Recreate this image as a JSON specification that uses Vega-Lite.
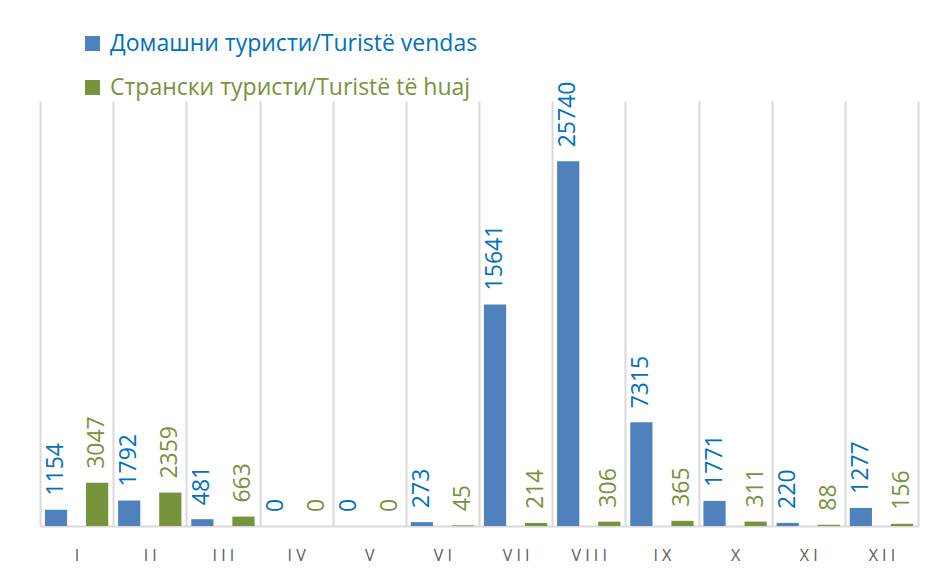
{
  "$schema": "https://vega.github.io/schema/vega-lite/v6.json",
  "width": 878,
  "height": 425,
  "autosize": {"type": "none"},
  "padding": {"left": 40, "top": 101, "right": 14, "bottom": 55},
  "background": "white",
  "config": {"view": {"stroke": null}},
  "data": {
    "values": [
      {"month": "I", "series": "Домашни туристи/Turistë vendas", "value": 1154},
      {"month": "I", "series": "Странски туристи/Turistë të huaj", "value": 3047},
      {"month": "II", "series": "Домашни туристи/Turistë vendas", "value": 1792},
      {"month": "II", "series": "Странски туристи/Turistë të huaj", "value": 2359},
      {"month": "III", "series": "Домашни туристи/Turistë vendas", "value": 481},
      {"month": "III", "series": "Странски туристи/Turistë të huaj", "value": 663},
      {"month": "IV", "series": "Домашни туристи/Turistë vendas", "value": 0},
      {"month": "IV", "series": "Странски туристи/Turistë të huaj", "value": 0},
      {"month": "V", "series": "Домашни туристи/Turistë vendas", "value": 0},
      {"month": "V", "series": "Странски туристи/Turistë të huaj", "value": 0},
      {"month": "VI", "series": "Домашни туристи/Turistë vendas", "value": 273},
      {"month": "VI", "series": "Странски туристи/Turistë të huaj", "value": 45},
      {"month": "VII", "series": "Домашни туристи/Turistë vendas", "value": 15641},
      {"month": "VII", "series": "Странски туристи/Turistë të huaj", "value": 214},
      {"month": "VIII", "series": "Домашни туристи/Turistë vendas", "value": 25740},
      {"month": "VIII", "series": "Странски туристи/Turistë të huaj", "value": 306},
      {"month": "IX", "series": "Домашни туристи/Turistë vendas", "value": 7315},
      {"month": "IX", "series": "Странски туристи/Turistë të huaj", "value": 365},
      {"month": "X", "series": "Домашни туристи/Turistë vendas", "value": 1771},
      {"month": "X", "series": "Странски туристи/Turistë të huaj", "value": 311},
      {"month": "XI", "series": "Домашни туристи/Turistë vendas", "value": 220},
      {"month": "XI", "series": "Странски туристи/Turistë të huaj", "value": 88},
      {"month": "XII", "series": "Домашни туристи/Turistë vendas", "value": 1277},
      {"month": "XII", "series": "Странски туристи/Turistë të huaj", "value": 156}
    ]
  },
  "encoding": {
    "x": {
      "field": "month",
      "type": "nominal",
      "sort": ["I", "II", "III", "IV", "V", "VI", "VII", "VIII", "IX", "X", "XI", "XII"],
      "scale": {"paddingInner": 0, "paddingOuter": 0},
      "axis": {
        "title": null,
        "labelAngle": 0,
        "ticks": false,
        "tickBand": "extent",
        "grid": true,
        "gridColor": "#D9D9D9",
        "gridWidth": 2,
        "domainColor": "#D9D9D9",
        "domainWidth": 2,
        "labelColor": "#595959",
        "labelFont": "Open Sans",
        "labelFontSize": 16,
        "labelPadding": 21,
        "labelExpr": "join(split(datum.label, ''), ' ')"
      }
    },
    "xOffset": {
      "field": "series",
      "sort": ["Домашни туристи/Turistë vendas", "Странски туристи/Turistë të huaj"],
      "scale": {"paddingInner": 0.46, "paddingOuter": 0.12}
    },
    "y": {
      "field": "value",
      "type": "quantitative",
      "scale": {"domain": [0, 30000]},
      "axis": null
    }
  },
  "layer": [
    {
      "mark": {"type": "bar"},
      "encoding": {
        "color": {
          "field": "series",
          "type": "nominal",
          "sort": ["Домашни туристи/Turistë vendas", "Странски туристи/Turistë të huaj"],
          "scale": {"range": ["#4F81BD", "#77933C"]},
          "legend": {
            "title": null,
            "orient": "none",
            "legendX": 41,
            "legendY": -69,
            "padding": 0,
            "symbolType": "square",
            "symbolSize": 225,
            "symbolStrokeWidth": 0,
            "labelFont": "Open Sans",
            "labelFontSize": 23,
            "labelOffset": 6,
            "rowPadding": 20,
            "labelLimit": 600,
            "encode": {
              "labels": {
                "update": {
                  "fill": {"signal": "datum.value === 'Домашни туристи/Turistë vendas' ? '#0070C0' : '#77933C'"}
                }
              }
            }
          }
        }
      }
    },
    {
      "mark": {
        "type": "text",
        "angle": 270,
        "align": "left",
        "baseline": "middle",
        "dx": 14,
        "font": "Open Sans",
        "fontSize": 23
      },
      "encoding": {
        "text": {"field": "value", "type": "quantitative", "format": "d"},
        "color": {
          "condition": {"test": "datum.series === 'Домашни туристи/Turistë vendas'", "value": "#0070C0"},
          "value": "#77933C"
        }
      }
    }
  ]
}
